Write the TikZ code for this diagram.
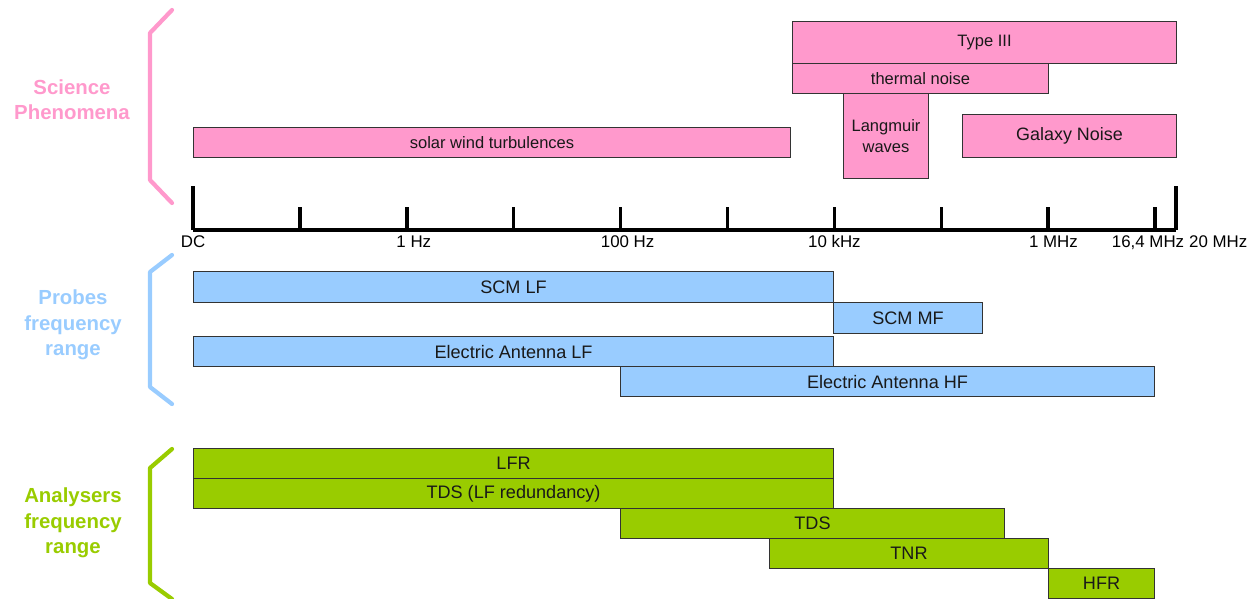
\documentclass[tikz,border=0pt]{standalone}
\usepackage{fontspec}
\setmainfont{Liberation Sans}
\usepackage{tikz}
\usetikzlibrary{positioning}
\definecolor{scipink}{HTML}{FF99CC}
\definecolor{probeblue}{HTML}{99CCFF}
\definecolor{anagreen}{HTML}{99CC00}
\tikzset{
    bandbox/.style    = {draw=black!80, line width=0.6pt, anchor=north west, inner sep=0pt,
                         align=center, font=\fontsize{9.4}{12}\selectfont, text=black!90},
    sciencebox/.style = {bandbox, fill=scipink},
    probebox/.style   = {bandbox, fill=probeblue, font=\fontsize{10.3}{12}\selectfont},
    anabox/.style     = {bandbox, fill=anagreen, font=\fontsize{10.3}{12}\selectfont},
    bracketline/.style = {line width=2.4pt, line cap=round, line join=round},
    grouplabel/.style  = {align=center, font=\bfseries\fontsize{11.6}{14.4}\selectfont},
    ticklabel/.style   = {font=\fontsize{9.6}{11}\selectfont, inner sep=1pt},
}

\begin{document}
\begin{tikzpicture}
        \useasboundingbox (0,0) rectangle (25.2,-11.98);

        % science phenomena
        \node[sciencebox, minimum width=7.68cm, minimum height=0.84cm] (type3) at (15.84,-0.42) {Type III};
        \node[sciencebox, minimum width=5.12cm, minimum height=0.60cm] (thermal) at (15.84,-1.26) {thermal noise};
        \node[sciencebox, minimum width=1.70cm, minimum height=1.70cm] (langmuir) at (16.86,-1.86) {Langmuir\\waves};
        \node[sciencebox, minimum width=4.28cm, minimum height=0.86cm, font=\fontsize{10.2}{12}\selectfont] (galaxy) at (19.24,-2.28) {Galaxy Noise};
        \node[sciencebox, minimum width=11.94cm, minimum height=0.60cm] (solar) at (3.86,-2.54) {solar wind turbulences};

        % frequency axis
        \draw[line width=2pt] (3.86,-4.60) -- (23.52,-4.60);
        \draw[line width=2pt] (3.86,-3.72) -- (3.86,-4.60);
        \draw[line width=2pt] (23.52,-3.72) -- (23.52,-4.60);
        \foreach \i in {0,...,9} {
            \coordinate (t\i) at ({3.86+2.138*\i},-4.60);
            \draw[line width=2pt] (t\i) -- ++(0,0.46);
        }
        \coordinate (tend) at (23.52,-4.60);
        \node[ticklabel, below=2pt of t0] (ldc) {DC};
        \node[ticklabel, below=2pt of t2, xshift=4pt] (l1hz) {1 Hz};
        \node[ticklabel, below=2pt of t4, xshift=4pt] (l100hz) {100 Hz};
        \node[ticklabel, below=2pt of t6] (l10khz) {10 kHz};
        \node[ticklabel, below=2pt of t8, xshift=3pt] (l1mhz) {1 MHz};
        \node[ticklabel, below=2pt of t9, xshift=-4pt] (l16mhz) {16,4 MHz};
        \node[ticklabel, below=2pt of tend, xshift=24pt] (l20mhz) {20 MHz};

        % probes
        \node[probebox, minimum width=12.80cm, minimum height=0.62cm] (scmlf) at (3.86,-5.42) {SCM LF};
        \node[probebox, minimum width=2.98cm, minimum height=0.62cm] (scmmf) at (16.66,-6.04) {SCM MF};
        \node[probebox, minimum width=12.80cm, minimum height=0.60cm] (ealf) at (3.86,-6.72) {Electric Antenna LF};
        \node[probebox, minimum width=10.68cm, minimum height=0.60cm] (eahf) at (12.40,-7.32) {Electric Antenna HF};

        % analysers
        \node[anabox, minimum width=12.80cm, minimum height=0.60cm] (lfr) at (3.86,-8.96) {LFR};
        \node[anabox, minimum width=12.80cm, minimum height=0.60cm] (tdslf) at (3.86,-9.56) {TDS (LF redundancy)};
        \node[anabox, minimum width=7.68cm, minimum height=0.60cm] (tds) at (12.40,-10.16) {TDS};
        \node[anabox, minimum width=5.58cm, minimum height=0.60cm] (tnr) at (15.38,-10.76) {TNR};
        \node[anabox, minimum width=2.12cm, minimum height=0.60cm] (hfr) at (20.96,-11.36) {HFR};

        % brackets and group labels
        \draw[bracketline, scipink] (3.44,-0.20) -- (3.00,-0.66) -- (3.00,-3.60) -- (3.44,-4.06);
        \draw[bracketline, probeblue] (3.44,-5.10) -- (3.00,-5.44) -- (3.00,-7.74) -- (3.44,-8.08);
        \draw[bracketline, anagreen] (3.44,-8.98) -- (3.00,-9.36) -- (3.00,-11.66) -- (3.44,-11.98);
        \node[grouplabel, text=scipink] (scilabel) at (1.44,-1.99) {Science\\Phenomena};
        \node[grouplabel, text=probeblue] (problabel) at (1.46,-6.50) {Probes\\frequency\\range};
        \node[grouplabel, text=anagreen] (analabel) at (1.46,-10.46) {Analysers\\frequency\\range};
\end{tikzpicture}
\end{document}
